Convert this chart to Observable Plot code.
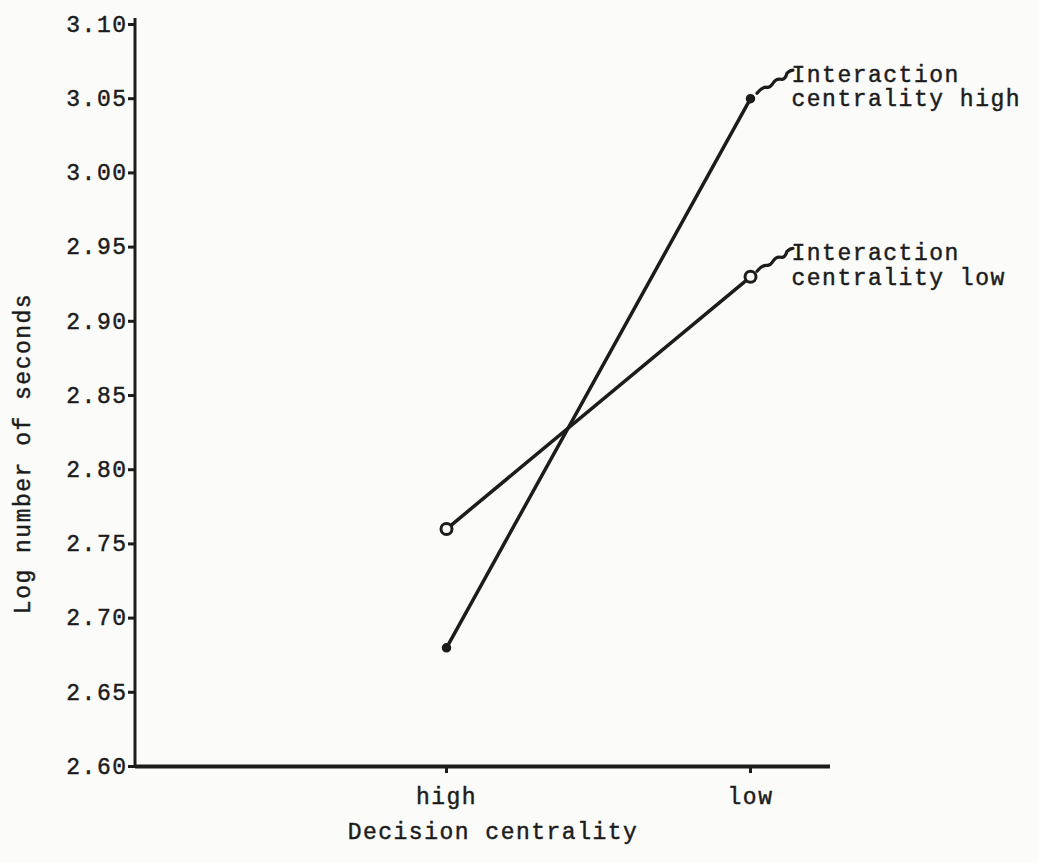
<!DOCTYPE html>
<html>
<head>
<meta charset="utf-8">
<script src="https://cdn.jsdelivr.net/npm/d3@7"></script>
<script src="https://cdn.jsdelivr.net/npm/@observablehq/plot@0.6"></script>
<style>
  html, body { margin: 0; padding: 0; background: #fbfbf9; }
  #chart { width: 1038px; height: 863px; }
  #chart svg text { stroke: #1c1c1c; stroke-width: 0.45px; }
</style>
</head>
<body>
<div id="chart"></div>
<script>
// ---- data ----
const decisionCentrality = ["high", "low"];
const icHigh = [2.68, 3.05];   // Interaction centrality high
const icLow  = [2.76, 2.93];   // Interaction centrality low
const seriesNames = ["Interaction\ncentrality high", "Interaction\ncentrality low"];
const yTicks = [2.60, 2.65, 2.70, 2.75, 2.80, 2.85, 2.90, 2.95, 3.00, 3.05, 3.10];
const yLabel = "Log number of seconds";
const xLabel = "Decision centrality";

const rows = [];
decisionCentrality.forEach((dc, i) => {
  rows.push({dc, ic: seriesNames[0], v: icHigh[i]});
  rows.push({dc, ic: seriesNames[1], v: icLow[i]});
});
const ends = rows.filter(d => d.dc === decisionCentrality[decisionCentrality.length - 1]);
const ink = "#1c1c1c";

// y axis line drawn at the left edge of the frame
function yAxisLine(index, scales, values, dims) {
  return d3.create("svg:line")
    .attr("x1", dims.marginLeft).attr("x2", dims.marginLeft)
    .attr("y1", dims.marginTop - 6).attr("y2", dims.height - dims.marginBottom)
    .attr("stroke", ink).attr("stroke-width", 3).node();
}

// wavy leader from each series end point to its label
function leaders(index, scales) {
  const g = d3.create("svg:g").attr("fill", "none").attr("stroke", ink)
    .attr("stroke-width", 3.2).attr("stroke-linecap", "round");
  ends.forEach(d => {
    const x = scales.x(d.dc), y = scales.y(d.v);
    g.append("path").attr("d",
      `M${x + 7},${y - 5} q5,-6 9,-6 q4,1 7,-4 q3,-5 8,-4 q4,1 6,-6 q3,-3 6,-3`);
  });
  return g.node();
}

const chart = Plot.plot({
  width: 1038,
  height: 863,
  marginLeft: 135,
  marginRight: 208,
  marginTop: 24,
  marginBottom: 97,
  style: {
    fontFamily: "'Liberation Mono', 'DejaVu Sans Mono', monospace",
    fontSize: "23px",
    letterSpacing: "1.5px",
    color: ink,
    background: "transparent"
  },
  x: {type: "point", domain: decisionCentrality, range: [446, 750], padding: 0},
  y: {domain: [2.60, 3.10]},
  marks: [
    Plot.axisY({ticks: yTicks, tickFormat: d3.format(".2f"), tickSize: 7, tickPadding: 1, strokeWidth: 3, label: null}),
    Plot.axisX({tickSize: 7, tickPadding: 14, strokeWidth: 3, label: null}),
    yAxisLine,
    Plot.ruleY([2.60], {stroke: ink, strokeWidth: 4}),
    Plot.line(rows, {x: "dc", y: "v", z: "ic", stroke: ink, strokeWidth: 3.5}),
    Plot.dot(rows.filter(d => d.ic === seriesNames[0]), {x: "dc", y: "v", r: 4, fill: ink, stroke: ink}),
    Plot.dot(rows.filter(d => d.ic === seriesNames[1]), {x: "dc", y: "v", r: 5.5, fill: "#fbfbf9", stroke: ink, strokeWidth: 3}),
    leaders,
    Plot.text(ends, {x: "dc", y: "v", text: "ic", dx: 41, dy: -12, textAnchor: "start", lineHeight: 1.05, fill: ink}),
    Plot.text([yLabel], {frameAnchor: "left", text: d => d, dx: -113, dy: 58, rotate: -90, textAnchor: "middle", fill: ink}),
    Plot.text([xLabel], {frameAnchor: "bottom", text: d => d, dx: 10, dy: 72, fill: ink})
  ]
});
document.getElementById("chart").appendChild(chart);
</script>
</body>
</html>
